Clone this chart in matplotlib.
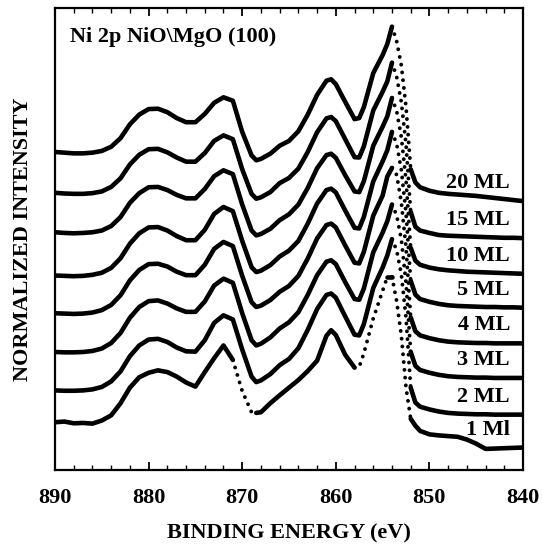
import numpy as np
import matplotlib.pyplot as plt
from matplotlib.ticker import MultipleLocator

plt.rcParams['font.family'] = ['Liberation Serif', 'DejaVu Serif']
plt.rcParams['font.weight'] = 'bold'

# -----------------------------
# DATA (arb. units, relative to each curve's 890 eV level)
# -----------------------------
energy = [890, 889, 888, 887, 886, 885, 884, 883, 882, 881, 880, 879, 878, 877,
          876, 875, 874, 873, 872, 871, 870, 869, 868.5, 868, 867, 866, 865, 864,
          863, 862, 861, 860.5, 860, 859, 858, 857.5, 857, 856, 855, 854.5, 854,
          853.5, 853, 852.5, 852, 851.5, 851, 850, 849, 848, 847, 846, 845, 844,
          843, 842, 841, 840]

ml_20 = [0, -2, -4, -4, -2, 3, 15, 40, 80, 108, 124, 125, 115, 98, 86, 86, 110,
         142, 158, 148, 58, -10, -24, -20, -5, 18, 32, 60, 108, 165, 206, 210, 196,
         145, 95, 98, 130, 228, 280, 312, 362, 320, 250, 130, -50, -88, -102, -112,
         -118, -121, -123, -125, -127, -130, -133, -136, -139, -142]
ml_15 = [0, -2, -3, -3, -1, 4, 17, 42, 82, 110, 126, 127, 117, 102, 90, 90, 115,
         150, 166, 155, 68, -3, -17, -13, 2, 28, 43, 70, 118, 175, 215, 219, 207,
         155, 103, 102, 135, 238, 292, 322, 376, 335, 262, 140, -55, -98, -109, -116,
         -122, -124, -125, -126, -127, -128, -129, -130, -130, -131]
ml_10 = [0, -2, -3, -2, 0, 5, 18, 44, 85, 113, 130, 131, 122, 108, 98, 98, 125,
         162, 179, 168, 80, 5, -9, -5, 10, 35, 52, 80, 128, 185, 223, 227, 215,
         165, 118, 116, 148, 250, 305, 335, 388, 350, 275, 150, -45, -82, -94, -102,
         -107, -110, -112, -114, -115, -116, -117, -118, -119, -120]
ml_5 = [0, -1, -2, -1, 2, 8, 22, 50, 92, 122, 139, 140, 130, 114, 102, 102, 132,
        178, 198, 186, 100, 24, 10, 14, 30, 55, 72, 100, 150, 208, 247, 251, 240,
        188, 138, 136, 170, 272, 330, 362, 415, 380, 305, 180, -15, -55, -68, -76,
        -82, -86, -88, -89, -90, -91, -91, -92, -92, -93]
ml_4 = [0, -1, -2, -1, 2, 9, 24, 52, 95, 125, 142, 143, 135, 120, 110, 110, 140,
        186, 206, 194, 108, 32, 18, 22, 38, 62, 79, 108, 158, 216, 255, 259, 248,
        196, 146, 144, 178, 282, 340, 395, 420, 400, 320, 190, -12, -52, -64, -72,
        -78, -82, -84, -85, -86, -86, -87, -87, -87, -87]
ml_3 = [0, -1, -1, 0, 3, 10, 26, 55, 99, 130, 147, 149, 140, 126, 116, 116, 146,
        192, 212, 200, 112, 34, 19, 24, 42, 68, 86, 115, 165, 222, 261, 265, 254,
        202, 153, 151, 184, 288, 345, 378, 426, 395, 325, 200, 0, -40, -52, -60,
        -66, -70, -72, -73, -74, -74, -75, -75, -75, -75]
ml_2 = [0, -1, -1, 0, 3, 10, 26, 55, 99, 130, 147, 149, 140, 124, 113, 112, 145,
        195, 217, 205, 118, 40, 24, 29, 47, 73, 91, 122, 175, 235, 276, 280, 268,
        214, 161, 159, 192, 296, 355, 390, 437, 405, 335, 210, 8, -35, -47, -55,
        -61, -65, -67, -68, -69, -69, -70, -70, -70, -70]
ml_1 = [0, 2, -3, -2, -4, 5, 20, 55, 100, 130, 143, 150, 145, 132, 115, 103, 145,
        185, 222, 180, 90, 29, 27, 29, 55, 78, 100, 122, 148, 178, 250, 266, 252,
        195, 158, 160, 200, 300, 380, 420, 420, 350, 250, 100, 10, -10, -25, -35,
        -38, -40, -42, -50, -62, -77, -76, -75, -74, -73]

spectra = [ml_20, ml_15, ml_10, ml_5, ml_4, ml_3, ml_2, ml_1]
labels = ["20 ML", "15 ML", "10 ML", "5 ML", "4 ML", "3 ML", "2 ML", "1 Ml"]
offsets = [919, 801, 687, 562, 453, 341, 230, 138]

# steep stretches where the measured points are spread out (drawn as dots)
sparse_20_2 = [(40, 44)]
sparse_1 = [(19, 22), (34, 39), (40, 44)]

# -----------------------------
# PLOT
# -----------------------------
fig = plt.figure(figsize=(5.42, 5.45), dpi=100)
ax = fig.add_axes([0.1015, 0.1376, 0.8635, 0.8477])

x = np.array(energy)
for spec, off, lab in zip(spectra, offsets, labels):
    y = np.array(spec) + off
    gaps = sparse_1 if lab == "1 Ml" else sparse_20_2
    # solid parts
    start = 0
    for a, b in gaps:
        ax.plot(x[start:a + 1], y[start:a + 1], color='black', lw=3.3,
                solid_joinstyle='round', solid_capstyle='round')
        ax.plot(x[a:b + 1], y[a:b + 1], color='black', lw=2.8,
                linestyle=(0, (0.01, 2.0)), dash_capstyle='round')
        start = b
    ax.plot(x[start:], y[start:], color='black', lw=3.3,
            solid_joinstyle='round', solid_capstyle='round')
    ax.text(841.4, y[-1] + 52, lab, ha='right', va='center', fontsize=16,
            fontweight='bold')

ax.text(0.032, 0.927, r"Ni 2p NiO\MgO (100)", transform=ax.transAxes,
        fontsize=16, fontweight='bold', va='baseline')

ax.set_xlim(890, 840)
ax.set_ylim(0, 1335)
ax.set_yticks([])
ax.xaxis.set_major_locator(MultipleLocator(10))
ax.xaxis.set_minor_locator(MultipleLocator(2))
ax.tick_params(axis='x', which='both', direction='in', top=True, labelsize=16, pad=13)
ax.tick_params(axis='x', which='major', length=6, width=1.3)
ax.tick_params(axis='x', which='minor', length=3.5, width=1.0)
for sp in ax.spines.values():
    sp.set_linewidth(1.6)

ax.set_xlabel("BINDING ENERGY (eV)", fontsize=16, fontweight='bold', labelpad=11)
ax.set_ylabel("NORMALIZED INTENSITY", fontsize=16, fontweight='bold', labelpad=16)

plt.savefig("out.png")
